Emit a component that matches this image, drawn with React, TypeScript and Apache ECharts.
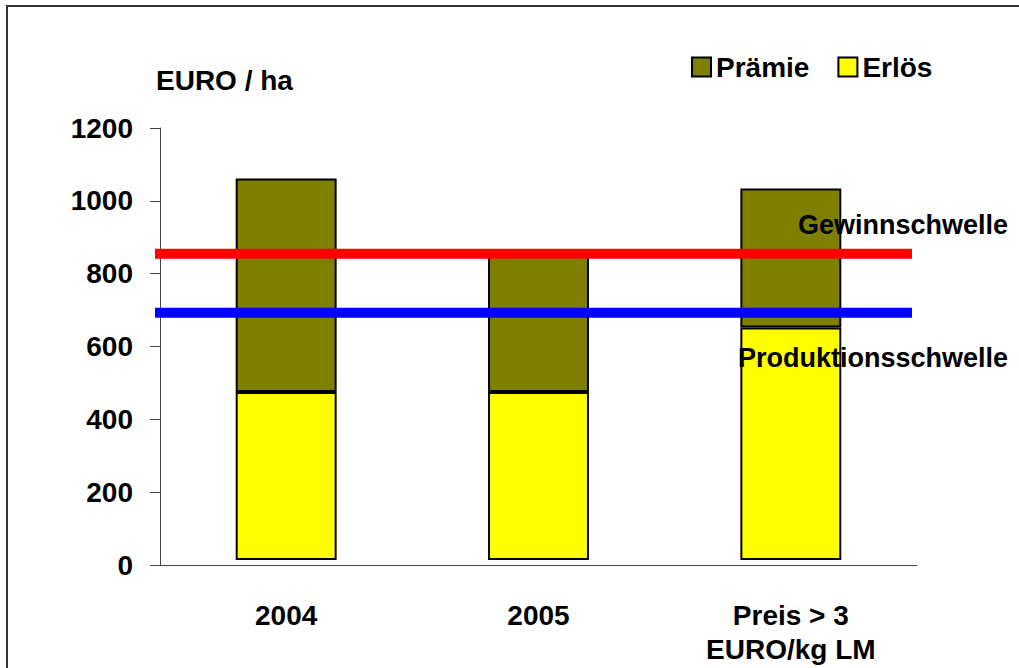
import React, { useEffect, useRef } from "react";
import * as echarts from "echarts";

const categories = ["2004", "2005", "Preis > 3\nEURO/kg LM"];
const sockel = [14, 14, 14];
const erlos = [461, 461, 638];
const praemie = [586, 375, 382];
const gewinnschwelle = 855;
const produktionsschwelle = 693;
const yTicks = { min: 0, max: 1200, interval: 200 };

const FONT = "'Liberation Sans', Arial, sans-serif";

export default function App() {
  const ref = useRef<HTMLDivElement>(null);
  useEffect(() => {
    const chart = echarts.init(ref.current!, null, { renderer: "svg" });
    const lineStart = -0.012;
    const lineEnd = 0.9934;
    chart.setOption({
      animation: false,
      backgroundColor: "#ffffff",
      textStyle: { fontFamily: FONT },
      grid: { left: 160, right: 102, top: 128, bottom: 103, containLabel: false },
      legend: {
        data: ["Prämie", "Erlös"],
        left: 691,
        top: 53,
        padding: 0,
        itemWidth: 19,
        itemHeight: 19,
        itemGap: 28,
        icon: "rect",
        textStyle: { fontFamily: FONT, fontSize: 28, fontWeight: "bold", color: "#000" },
      },
      xAxis: [
        {
          type: "category",
          data: categories,
          axisLine: { lineStyle: { color: "#444", width: 1 } },
          axisTick: { length: 8, lineStyle: { color: "#444" } },
          axisLabel: { fontFamily: FONT, fontSize: 28, fontWeight: "bold", color: "#000", margin: 33, lineHeight: 34 },
        },
        { type: "value", min: 0, max: 1, show: false },
      ],
      yAxis: {
        type: "value",
        min: yTicks.min,
        max: yTicks.max,
        interval: yTicks.interval,
        splitLine: { show: false },
        axisLine: { show: true, lineStyle: { color: "#444", width: 1 } },
        axisTick: { show: true, length: 10, lineStyle: { color: "#444" } },
        axisLabel: {
          fontFamily: FONT,
          fontSize: 28,
          fontWeight: "bold",
          color: "#000",
          margin: 27,
          formatter: (v: number) => String(v),
        },
      },
      series: [
        {
          name: "Sockel",
          type: "bar",
          stack: "s",
          data: sockel,
          barWidth: "40%",
          itemStyle: { color: "transparent" },
          silent: true,
        },
        {
          name: "Erlös",
          type: "bar",
          stack: "s",
          data: erlos,
          barWidth: "40%",
          itemStyle: { color: "#FFFF00", borderColor: "#000", borderWidth: 2 },
        },
        {
          name: "Prämie",
          type: "bar",
          stack: "s",
          data: praemie,
          barWidth: "40%",
          itemStyle: { color: "#808000", borderColor: "#000", borderWidth: 2 },
        },
        {
          name: "Gewinnschwelle",
          type: "line",
          xAxisIndex: 1,
          data: [
            [lineStart, gewinnschwelle],
            [lineEnd, gewinnschwelle],
          ],
          symbol: "none",
          clip: false,
          z: 5,
          lineStyle: { color: "#FF0000", width: 10 },
        },
        {
          name: "Produktionsschwelle",
          type: "line",
          xAxisIndex: 1,
          data: [
            [lineStart, produktionsschwelle],
            [lineEnd, produktionsschwelle],
          ],
          symbol: "none",
          clip: false,
          z: 5,
          lineStyle: { color: "#0000FF", width: 10 },
        },
      ],
      graphic: [
        {
          type: "rect",
          shape: { x: 7, y: 6, width: 1100, height: 700 },
          style: { fill: "none", stroke: "#333", lineWidth: 2 },
          z: 0,
        },
        {
          type: "text",
          left: 156,
          top: 66,
          style: { text: "EURO / ha", font: `bold 28px ${FONT}`, fill: "#000" },
          z: 10,
        },
        {
          type: "text",
          x: 1008,
          y: 225,
          style: { text: "Gewinnschwelle", font: `bold 27px ${FONT}`, fill: "#000", textAlign: "right", textVerticalAlign: "middle" },
          z: 10,
        },
        {
          type: "text",
          x: 1008,
          y: 358,
          style: { text: "Produktionsschwelle", font: `bold 27px ${FONT}`, fill: "#000", textAlign: "right", textVerticalAlign: "middle" },
          z: 10,
        },
      ],
    });
    return () => chart.dispose();
  }, []);
  return <div ref={ref} style={{ position: "fixed", left: 0, top: 0, width: 1019, height: 668 }} />;
}
